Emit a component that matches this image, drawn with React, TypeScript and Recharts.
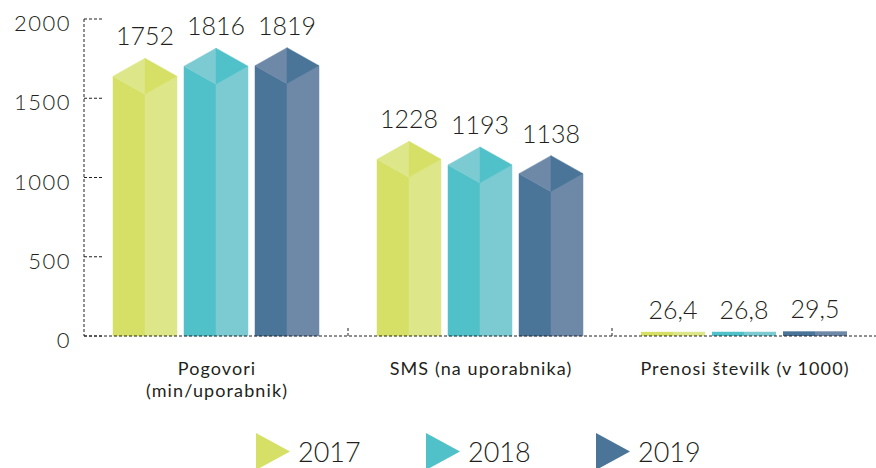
import { BarChart, Bar, XAxis, YAxis, Legend, LabelList } from 'recharts';

const categories = ['Pogovori (min/uporabnik)', 'SMS (na uporabnika)', 'Prenosi številk (v 1000)'];
const categoryLines = [['Pogovori', '(min/uporabnik)'], ['SMS (na uporabnika)'], ['Prenosi številk (v 1000)']];
const years = ['2017', '2018', '2019'];
const values2017 = [1752, 1228, 26.4];
const values2018 = [1816, 1193, 26.8];
const values2019 = [1819, 1138, 29.5];
const yTicks = [0, 500, 1000, 1500, 2000];

const darkColors = ['#d6e067', '#51c1c9', '#4a7598'];
const lightColors = ['#dde789', '#7ccbd2', '#6e88a8'];
const ink = '#231f20';
const font = 'Lato, "Open Sans", sans-serif';

const data = categories.map((name, i) => ({
  name,
  y2017: values2017[i],
  y2018: values2018[i],
  y2019: values2019[i],
}));

const makePrism = (k: number) => (props: any) => {
  const { x, y, width, height } = props;
  const d = darkColors[k];
  const l = lightColors[k];
  const xm = x + width / 2;
  const x1 = x + width;
  const base = y + height;
  if (height < 40) {
    return (
      <g>
        <rect x={x} y={y} width={width / 2} height={height} fill={d} />
        <rect x={xm} y={y} width={width / 2} height={height} fill={l} />
      </g>
    );
  }
  const yc = y + 18;
  const yb = y + 36;
  return (
    <g>
      <polygon points={`${x},${yc} ${xm},${yb} ${xm},${base} ${x},${base}`} fill={d} stroke={d} strokeWidth={0.5} />
      <polygon points={`${xm},${yb} ${x1},${yc} ${x1},${base} ${xm},${base}`} fill={l} stroke={l} strokeWidth={0.5} />
      <polygon points={`${xm},${y} ${x},${yc} ${xm},${yb}`} fill={l} stroke={l} strokeWidth={0.5} />
      <polygon points={`${xm},${y} ${x1},${yc} ${xm},${yb}`} fill={d} stroke={d} strokeWidth={0.5} />
    </g>
  );
};

const ValueLabel = (props: any) => {
  const { x, y, width, value } = props;
  return (
    <text x={x + width / 2} y={y - 13} textAnchor="middle" fontSize={25} fontFamily={font} fontWeight={300} fill={ink}>
      {String(value).replace('.', ',')}
    </text>
  );
};

const YTick = (props: any) => {
  const { x, y, payload } = props;
  return (
    <g>
      <line x1={x} x2={x + 20} y1={y} y2={y} stroke={ink} strokeDasharray="3 2" />
      <text x={x - 13} y={y + 12} textAnchor="end" fontSize={22} fontFamily={font} fontWeight={300} letterSpacing={1.5} fill={ink}>
        {payload.value}
      </text>
    </g>
  );
};

const XTick = (props: any) => {
  const { x, y, payload, index } = props;
  const lines = categoryLines[index] || [payload.value];
  const half = payload.offset ?? 132;
  return (
    <g>
      {index < categories.length - 1 && (
        <line x1={x + half} x2={x + half} y1={y} y2={y - 9} stroke={ink} strokeDasharray="3 2" />
      )}
      {lines.map((t, i) => (
        <text key={i} x={x + 1} y={y + 39 + i * 22} textAnchor="middle" fontSize={18} fontFamily={font} letterSpacing={1.1} fill={ink}>
          {t}
        </text>
      ))}
    </g>
  );
};

const renderLegend = (props: any) => {
  const { payload } = props;
  return (
    <div style={{ position: 'relative', width: 876, height: 52 }}>
      {(payload || []).map((p: any, i: number) => (
        <div key={p.value} style={{ position: 'absolute', left: 256 + i * 170, top: 17, display: 'flex', alignItems: 'center' }}>
          <svg width={34} height={37}>
            <polygon points="0,0 34,18.5 0,37" fill={p.color} />
          </svg>
          <span style={{ marginLeft: 8, fontSize: 27, fontFamily: font, fontWeight: 300, color: ink, lineHeight: '37px' }}>
            {p.value}
          </span>
        </div>
      ))}
    </div>
  );
};

export default function App() {
  return (
    <div style={{ position: 'absolute', left: 0, top: 0, width: 876, height: 468, background: '#fff', overflow: 'hidden' }}>
      <BarChart
        width={876}
        height={468}
        data={data}
        margin={{ top: 19, right: 0, left: 0, bottom: 0 }}
        barSize={64}
        barGap={7}
      >
        <XAxis
          dataKey="name"
          height={80}
          interval={0}
          tickLine={false}
          tickSize={0}
          tickMargin={0}
          axisLine={{ stroke: ink, strokeDasharray: '3 2' }}
          tick={<XTick />}
        />
        <YAxis
          domain={[0, 2000]}
          ticks={yTicks}
          width={84}
          interval={0}
          tickLine={false}
          tickSize={0}
          tickMargin={0}
          axisLine={{ stroke: ink, strokeDasharray: '3 2' }}
          tick={<YTick />}
        />
        <Legend verticalAlign="bottom" height={52} content={renderLegend} />
        <Bar dataKey="y2017" name={years[0]} fill={darkColors[0]} shape={makePrism(0)} isAnimationActive={false}>
          <LabelList dataKey="y2017" content={<ValueLabel />} />
        </Bar>
        <Bar dataKey="y2018" name={years[1]} fill={darkColors[1]} shape={makePrism(1)} isAnimationActive={false}>
          <LabelList dataKey="y2018" content={<ValueLabel />} />
        </Bar>
        <Bar dataKey="y2019" name={years[2]} fill={darkColors[2]} shape={makePrism(2)} isAnimationActive={false}>
          <LabelList dataKey="y2019" content={<ValueLabel />} />
        </Bar>
      </BarChart>
    </div>
  );
}
